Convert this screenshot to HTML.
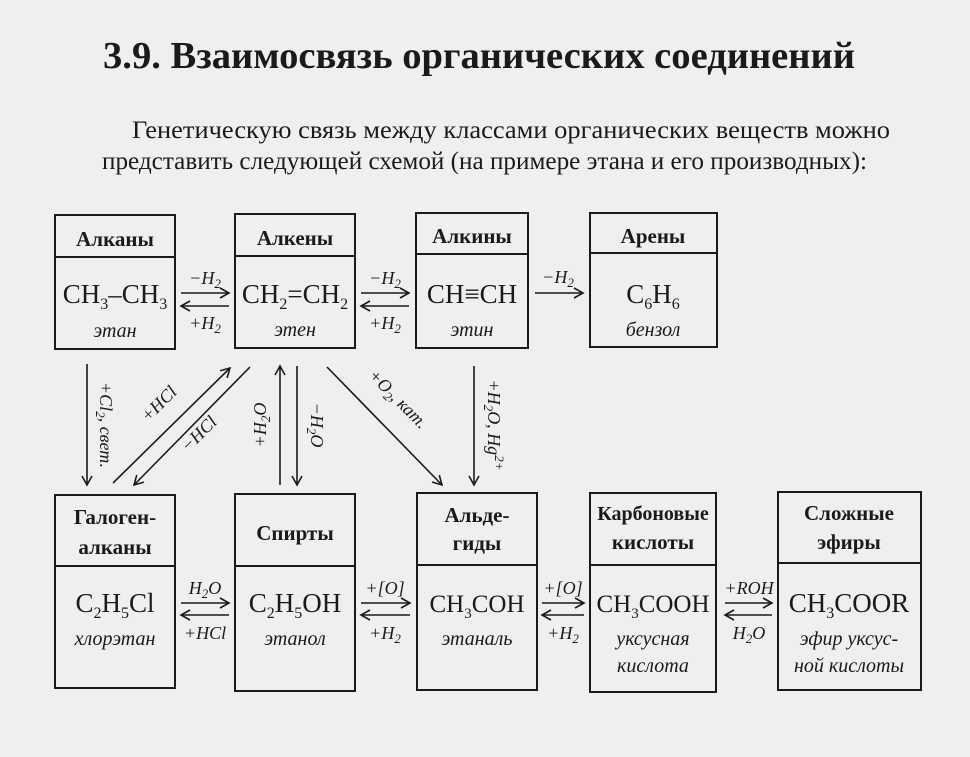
<!DOCTYPE html>
<html><head><meta charset="utf-8"><style>
body{margin:0;background:#efefef}
svg{display:block}
text{font-family:"Liberation Serif",serif;fill:#1a1a1a}
.h{font-weight:bold;font-size:21px}
.f{font-size:27px}
.n{font-style:italic;font-size:20px}
.l{font-style:italic;font-size:18px}
</style></head><body>
<svg width="970" height="757" viewBox="0 0 970 757" xmlns="http://www.w3.org/2000/svg">
<defs><marker id="a" markerWidth="12" markerHeight="12" refX="10" refY="6" orient="auto" markerUnits="userSpaceOnUse"><path d="M1,1 L10,6 L1,11" fill="none" stroke="#1a1a1a" stroke-width="1.6"/></marker></defs>
<rect width="970" height="757" fill="#efefef"/>
<text x="103" y="68" style="font-weight:bold;font-size:38px" textLength="752" lengthAdjust="spacingAndGlyphs">3.9. Взаимосвязь органических соединений</text>
<text x="132" y="138" style="font-size:25px" textLength="758" lengthAdjust="spacingAndGlyphs">Генетическую связь между классами органических веществ можно</text>
<text x="102" y="169" style="font-size:25px" textLength="765" lengthAdjust="spacingAndGlyphs">представить следующей схемой (на примере этана и его производных):</text>
<g fill="none" stroke="#1a1a1a" stroke-width="2">
<rect x="55" y="215" width="120" height="134"/><line x1="55" y1="257" x2="175" y2="257"/>
<rect x="235" y="214" width="120" height="134"/><line x1="235" y1="256" x2="355" y2="256"/>
<rect x="416" y="213" width="112" height="135"/><line x1="416" y1="254" x2="528" y2="254"/>
<rect x="590" y="213" width="127" height="134"/><line x1="590" y1="253" x2="717" y2="253"/>
<rect x="55" y="495" width="120" height="193"/><line x1="55" y1="566" x2="175" y2="566"/>
<rect x="235" y="494" width="120" height="197"/><line x1="235" y1="566" x2="355" y2="566"/>
<rect x="417" y="493" width="120" height="197"/><line x1="417" y1="565" x2="537" y2="565"/>
<rect x="590" y="493" width="126" height="199"/><line x1="590" y1="565" x2="716" y2="565"/>
<rect x="778" y="492" width="143" height="198"/><line x1="778" y1="563" x2="921" y2="563"/>
</g>
<g stroke="#1a1a1a" stroke-width="1.6" marker-end="url(#a)">
<line x1="181" y1="293" x2="229" y2="293"/><line x1="229" y1="306" x2="181" y2="306"/>
<line x1="361" y1="293" x2="409" y2="293"/><line x1="409" y1="306" x2="361" y2="306"/>
<line x1="535" y1="293" x2="583" y2="293"/>
<line x1="181" y1="603" x2="229" y2="603"/><line x1="229" y1="615" x2="181" y2="615"/>
<line x1="361" y1="603" x2="410" y2="603"/><line x1="410" y1="615" x2="361" y2="615"/>
<line x1="542" y1="603" x2="584" y2="603"/><line x1="584" y1="615" x2="542" y2="615"/>
<line x1="725" y1="603" x2="772" y2="603"/><line x1="772" y1="615" x2="725" y2="615"/>
<line x1="87" y1="364" x2="87" y2="485"/>
<line x1="113" y1="483" x2="230" y2="368"/>
<line x1="250" y1="367" x2="134" y2="485"/>
<line x1="280" y1="485" x2="280" y2="366"/>
<line x1="297" y1="366" x2="297" y2="485"/>
<line x1="327" y1="367" x2="442" y2="485"/>
<line x1="474" y1="366" x2="474" y2="485"/>
</g>
<g text-anchor="middle">
<text class="h" x="115" y="246">Алканы</text>
<text class="h" x="295" y="245">Алкены</text>
<text class="h" x="472" y="243">Алкины</text>
<text class="h" x="653" y="243">Арены</text>
<text class="f" x="115" y="303">CH<tspan font-size="16" dy="6">3</tspan><tspan dy="-6">–CH</tspan><tspan font-size="16" dy="6">3</tspan></text>
<text class="f" x="295" y="303">CH<tspan font-size="16" dy="6">2</tspan><tspan dy="-6">=CH</tspan><tspan font-size="16" dy="6">2</tspan></text>
<text class="f" x="472" y="303">CH≡CH</text>
<text class="f" x="653" y="303">C<tspan font-size="16" dy="6">6</tspan><tspan dy="-6">H</tspan><tspan font-size="16" dy="6">6</tspan></text>
<text class="n" x="115" y="337">этан</text>
<text class="n" x="295" y="336">этен</text>
<text class="n" x="472" y="336">этин</text>
<text class="n" x="653" y="336">бензол</text>
<text class="l" x="205" y="284">−H<tspan font-size="13" dy="4">2</tspan></text>
<text class="l" x="205" y="329">+H<tspan font-size="13" dy="4">2</tspan></text>
<text class="l" x="385" y="284">−H<tspan font-size="13" dy="4">2</tspan></text>
<text class="l" x="385" y="329">+H<tspan font-size="13" dy="4">2</tspan></text>
<text class="l" x="558" y="283">−H<tspan font-size="13" dy="4">2</tspan></text>
<text class="h" x="115" y="524">Галоген-</text>
<text class="h" x="115" y="554">алканы</text>
<text class="h" x="295" y="540">Спирты</text>
<text class="h" x="477" y="522">Альде-</text>
<text class="h" x="477" y="550">гиды</text>
<text class="h" x="653" y="520" style="font-size:20px">Карбоновые</text>
<text class="h" x="653" y="549">кислоты</text>
<text class="h" x="849" y="520">Сложные</text>
<text class="h" x="849" y="549">эфиры</text>
<text class="f" x="115" y="612">C<tspan font-size="16" dy="6">2</tspan><tspan dy="-6">H</tspan><tspan font-size="16" dy="6">5</tspan><tspan dy="-6">Cl</tspan></text>
<text class="f" x="295" y="612">C<tspan font-size="16" dy="6">2</tspan><tspan dy="-6">H</tspan><tspan font-size="16" dy="6">5</tspan><tspan dy="-6">OH</tspan></text>
<text class="f" x="477" y="612" style="font-size:25px">CH<tspan font-size="15" dy="6">3</tspan><tspan dy="-6">COH</tspan></text>
<text class="f" x="653" y="612" style="font-size:25px">CH<tspan font-size="15" dy="6">3</tspan><tspan dy="-6">COOH</tspan></text>
<text class="f" x="849" y="612">CH<tspan font-size="16" dy="6">3</tspan><tspan dy="-6">COOR</tspan></text>
<text class="n" x="115" y="645">хлорэтан</text>
<text class="n" x="295" y="645">этанол</text>
<text class="n" x="477" y="645">этаналь</text>
<text class="n" x="653" y="645">уксусная</text>
<text class="n" x="653" y="672">кислота</text>
<text class="n" x="849" y="645">эфир уксус-</text>
<text class="n" x="849" y="672">ной кислоты</text>
<text class="l" x="205" y="594">H<tspan font-size="13" dy="4">2</tspan><tspan dy="-4">O</tspan></text>
<text class="l" x="205" y="639">+HCl</text>
<text class="l" x="385" y="594">+[O]</text>
<text class="l" x="385" y="639">+H<tspan font-size="13" dy="4">2</tspan></text>
<text class="l" x="563" y="594">+[O]</text>
<text class="l" x="563" y="639">+H<tspan font-size="13" dy="4">2</tspan></text>
<text class="l" x="749" y="594">+ROH</text>
<text class="l" x="749" y="639">H<tspan font-size="13" dy="4">2</tspan><tspan dy="-4">O</tspan></text>
<text class="l" transform="translate(100,425) rotate(90)">+Cl<tspan font-size="13" dy="4">2</tspan><tspan dy="-4">, свет.</tspan></text>
<text class="l" transform="translate(163,408) rotate(-45)">+HCl</text>
<text class="l" transform="translate(203,438) rotate(-45)">−HCl</text>
<text class="l" transform="translate(266,425) rotate(-90)">+H<tspan font-size="13" dy="4">2</tspan><tspan dy="-4">O</tspan></text>
<text class="l" transform="translate(311,425) rotate(90)">−H<tspan font-size="13" dy="4">2</tspan><tspan dy="-4">O</tspan></text>
<text class="l" transform="translate(394,403) rotate(45)">+O<tspan font-size="13" dy="4">2</tspan><tspan dy="-4">, кат.</tspan></text>
<text class="l" transform="translate(488,425) rotate(90)">+H<tspan font-size="13" dy="4">2</tspan><tspan dy="-4">O, Hg</tspan><tspan font-size="13" dy="-7">2+</tspan></text>
</g>
</svg>
</body></html>
